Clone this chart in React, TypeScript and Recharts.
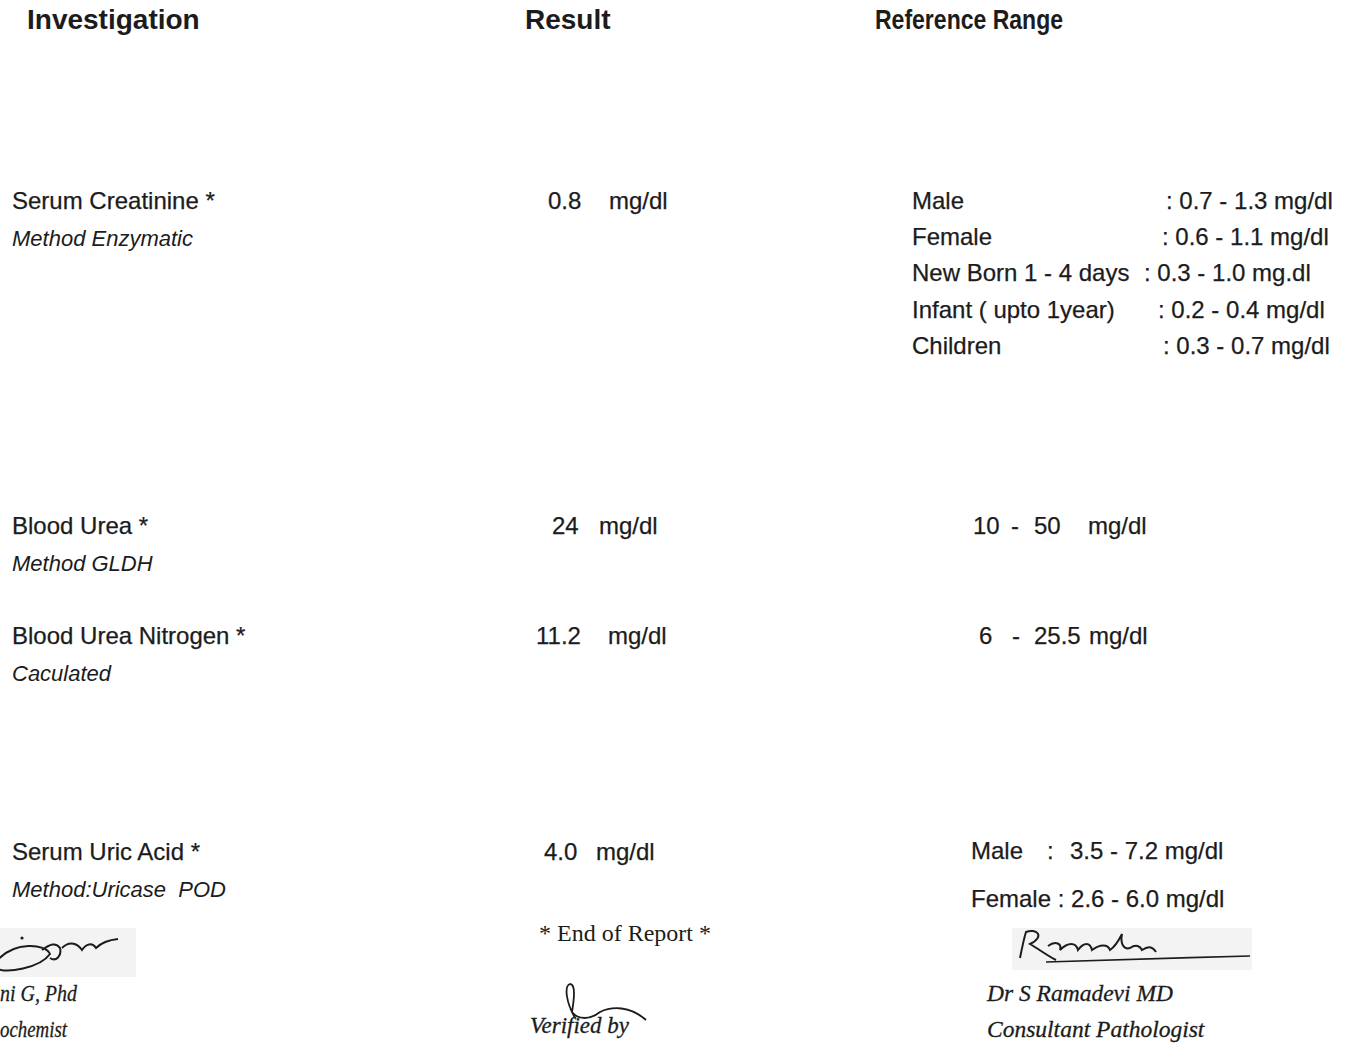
import React from "react";
import { ComposedChart, Customized } from "recharts";

// report content
const headers = ["Investigation", "Result", "Reference Range"];
const investigations = ["Serum Creatinine *", "Blood Urea *", "Blood Urea Nitrogen *", "Serum Uric Acid *"];
const methods = ["Method Enzymatic", "Method GLDH", "Caculated", "Method:Uricase  POD"];
const results = ["0.8", "24", "11.2", "4.0"];
const units = ["mg/dl", "mg/dl", "mg/dl", "mg/dl"];

const creatinineGroups = ["Male", "Female", "New Born 1 - 4 days", "Infant ( upto 1year)", "Children"];
const creatinineRanges = [": 0.7 - 1.3 mg/dl", ": 0.6 - 1.1 mg/dl", ": 0.3 - 1.0 mg.dl", ": 0.2 - 0.4 mg/dl", ": 0.3 - 0.7 mg/dl"];
const ureaRanges = [
  ["10", "-", "50", "mg/dl"],
  ["6", "-", "25.5", "mg/dl"],
];
const uricMale = ["Male", ":", "3.5 - 7.2 mg/dl"];
const uricFemale = "Female : 2.6 - 6.0 mg/dl";

const footerText = "* End of Report *";
// the left signatory is cut at the page edge in the original scan
const signatories = [
  ["ni G, Phd", "ochemist"],
  ["Verified by"],
  ["Dr S Ramadevi MD", "Consultant Pathologist"],
];

// layout
const W = 1350;
const H = 1046;
const INK = "#1c1c1c";
const SANS = "'Liberation Sans', Arial, sans-serif";
const SERIF = "'Liberation Serif', 'Times New Roman', serif";
const FS = 24;
const rowY = [209, 534, 644, 860];
const methodOffset = 37;
const valueX = [548, 552, 536, 544];
const unitX = [609, 599, 608, 596];
const creatRangeX = [1166, 1162, 1144, 1158, 1163];
const creatLineH = 36.2;
const ureaPartX = [
  [973, 1011, 1034, 1088],
  [979, 1012, 1034, 1089],
];
const ureaRows = [1, 2];
const uricMaleX = [971, 1047, 1070];

const body = { fontFamily: SANS, fontSize: FS, stroke: INK, strokeWidth: 0.25 };
const sig = { fontFamily: SERIF, fontStyle: "italic", stroke: INK, strokeWidth: 0.3 };

function Report() {
  return (
    <g fill={INK}>
      {/* faint halftone boxes behind signatures */}
      <rect x={0} y={928} width={136} height={49} fill="#f3f3f3" />
      <rect x={1012} y={928} width={240} height={42} fill="#f3f3f3" />

      <text x={27} y={29} fontFamily={SANS} fontWeight="bold" fontSize={28}>{headers[0]}</text>
      <text x={525} y={29} fontFamily={SANS} fontWeight="bold" fontSize={28}>{headers[1]}</text>
      <text x={875} y={29} fontFamily={SANS} fontWeight="bold" fontSize={28} textLength={188} lengthAdjust="spacingAndGlyphs">
        {headers[2]}
      </text>

      {investigations.map((name, i) => (
        <g key={name}>
          <text x={12} y={rowY[i]} {...body}>{name}</text>
          <text x={12} y={rowY[i] + methodOffset} fontFamily={SANS} fontSize={22} fontStyle="italic" style={{ whiteSpace: "pre" }}>
            {methods[i]}
          </text>
          <text x={valueX[i]} y={rowY[i]} {...body}>{results[i]}</text>
          <text x={unitX[i]} y={rowY[i]} {...body}>{units[i]}</text>
        </g>
      ))}

      {creatinineGroups.map((g, i) => (
        <g key={g}>
          <text x={912} y={rowY[0] + i * creatLineH} {...body}>{g}</text>
          <text x={creatRangeX[i]} y={rowY[0] + i * creatLineH} {...body}>{creatinineRanges[i]}</text>
        </g>
      ))}

      {ureaRanges.map((parts, r) =>
        parts.map((p, j) => (
          <text key={`${r}-${j}`} x={ureaPartX[r][j]} y={rowY[ureaRows[r]]} {...body}>{p}</text>
        ))
      )}

      {uricMale.map((p, j) => (
        <text key={p} x={uricMaleX[j]} y={859} {...body}>{p}</text>
      ))}
      <text x={971} y={907} {...body}>{uricFemale}</text>

      <text x={539} y={941} fontFamily={SERIF} fontSize={24}>{footerText}</text>

      {/* left signature, cut at the page edge */}
      <path d="M-4 962 C 14 940, 46 944, 50 954 C 40 968, 6 974, -4 968 M 42 950 C 50 944, 56 942, 60 948 C 62 956, 56 962, 50 958 M 62 948 C 70 940, 78 944, 82 950 C 86 944, 92 942, 96 948 C 100 944, 108 940, 118 939" stroke={INK} strokeWidth={2} fill="none" />
      <circle cx={22} cy={938} r={1.6} />
      <text x={0} y={1001} fontSize={23} textLength={77} lengthAdjust="spacingAndGlyphs" {...sig}>{signatories[0][0]}</text>
      <text x={0} y={1037} fontSize={23} textLength={67} lengthAdjust="spacingAndGlyphs" {...sig}>{signatories[0][1]}</text>

      {/* verifier */}
      <path d="M 575 1018 C 566 1002, 564 986, 570 984 C 576 984, 574 1000, 572 1012 C 578 1020, 590 1020, 600 1012 C 612 1006, 630 1006, 646 1020" stroke={INK} strokeWidth={1.8} fill="none" />
      <text x={530} y={1033} fontSize={23} {...sig}>{signatories[1][0]}</text>

      {/* right signature */}
      <path d="M 1020 958 C 1022 948, 1024 938, 1026 932 C 1036 928, 1046 936, 1030 944 C 1040 950, 1048 956, 1056 960 M 1048 946 C 1056 940, 1062 944, 1060 950 C 1068 942, 1076 942, 1078 950 C 1084 942, 1090 942, 1092 950 C 1100 944, 1108 944, 1110 950 C 1116 946, 1120 938, 1122 934 C 1120 944, 1124 950, 1130 948 C 1136 944, 1140 946, 1142 950 C 1148 946, 1152 946, 1156 952" stroke={INK} strokeWidth={2} fill="none" />
      <path d="M 1046 962 C 1100 960, 1180 958, 1250 956" stroke={INK} strokeWidth={1.6} fill="none" />
      <text x={987} y={1001} fontSize={23.5} {...sig}>{signatories[2][0]}</text>
      <text x={987} y={1037} fontSize={23.5} {...sig}>{signatories[2][1]}</text>
    </g>
  );
}

export default function App() {
  return (
    <div style={{ position: "absolute", left: 0, top: 0, width: W, height: H, background: "#fff" }}>
      <ComposedChart width={W} height={H} data={[]} margin={{ top: 0, right: 0, bottom: 0, left: 0 }}>
        <Customized component={<Report />} />
      </ComposedChart>
    </div>
  );
}
